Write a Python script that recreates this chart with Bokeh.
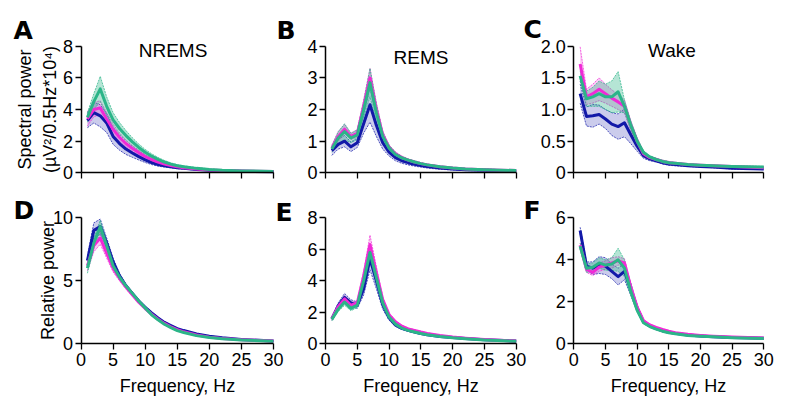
from bokeh.plotting import figure
from bokeh.models import Range1d, FixedTicker, Label, LinearAxis, CustomJSTickFormatter
from bokeh.embed import file_html
from bokeh.resources import INLINE

FONT = "Liberation Sans"
LETTER_FONT = "DejaVu Sans"
BLUE = "#1219a8"
MAGENTA = "#f02ad6"
GREEN = "#2bb588"

freq = [1, 2, 3, 4, 5, 6, 7, 8, 9, 10, 11, 12, 13, 14, 15, 16, 18, 20, 22, 25, 30]
x_ticks = [0, 5, 10, 15, 20, 25, 30]

# A: NREMS spectral power
a_blue = [3.3, 3.8, 3.6, 3.15, 2.3, 1.85, 1.5, 1.25, 1.02, 0.82, 0.65, 0.52, 0.44, 0.38, 0.32, 0.28, 0.21, 0.16, 0.13, 0.1, 0.07]
a_blue_sem = [0.45, 0.65, 0.7, 0.6, 0.5, 0.42, 0.34, 0.27, 0.21, 0.17, 0.13, 0.1, 0.08, 0.07, 0.06, 0.05, 0.04, 0.03, 0.03, 0.02, 0.02]
a_mag = [3.4, 4.0, 4.1, 3.4, 2.75, 2.25, 1.85, 1.55, 1.28, 1.03, 0.84, 0.68, 0.56, 0.46, 0.38, 0.32, 0.24, 0.18, 0.14, 0.11, 0.08]
a_mag_sem = [0.45, 0.45, 0.45, 0.4, 0.32, 0.27, 0.22, 0.18, 0.15, 0.12, 0.1, 0.08, 0.07, 0.06, 0.05, 0.04, 0.03, 0.03, 0.02, 0.02, 0.02]
a_grn = [3.5, 4.5, 5.3, 4.2, 3.35, 2.8, 2.35, 1.95, 1.6, 1.3, 1.05, 0.85, 0.68, 0.55, 0.45, 0.38, 0.28, 0.21, 0.16, 0.12, 0.09]
a_grn_sem = [0.3, 0.5, 0.8, 0.6, 0.45, 0.38, 0.32, 0.27, 0.22, 0.18, 0.15, 0.12, 0.1, 0.08, 0.07, 0.06, 0.05, 0.04, 0.03, 0.03, 0.02]

# B: REMS spectral power
b_blue = [0.7, 0.9, 1.0, 0.82, 0.95, 1.55, 2.15, 1.5, 0.95, 0.65, 0.48, 0.38, 0.32, 0.27, 0.23, 0.2, 0.15, 0.12, 0.1, 0.08, 0.06]
b_blue_sem = [0.15, 0.15, 0.18, 0.15, 0.15, 0.3, 0.55, 0.35, 0.2, 0.12, 0.1, 0.08, 0.07, 0.06, 0.05, 0.05, 0.04, 0.03, 0.03, 0.02, 0.02]
b_mag = [0.78, 1.15, 1.38, 1.15, 1.25, 2.1, 3.0, 2.0, 1.2, 0.8, 0.6, 0.48, 0.4, 0.34, 0.29, 0.25, 0.19, 0.15, 0.12, 0.1, 0.07]
b_mag_sem = [0.1, 0.15, 0.15, 0.1, 0.12, 0.2, 0.3, 0.2, 0.12, 0.08, 0.06, 0.05, 0.04, 0.04, 0.03, 0.03, 0.02, 0.02, 0.02, 0.02, 0.01]
b_grn = [0.75, 1.1, 1.3, 1.1, 1.2, 2.0, 2.85, 1.9, 1.15, 0.78, 0.58, 0.47, 0.4, 0.34, 0.29, 0.25, 0.19, 0.15, 0.12, 0.1, 0.07]
b_grn_sem = [0.1, 0.2, 0.25, 0.15, 0.15, 0.25, 0.45, 0.3, 0.15, 0.1, 0.07, 0.05, 0.04, 0.04, 0.03, 0.03, 0.02, 0.02, 0.02, 0.02, 0.01]

# C: Wake spectral power
c_blue = [1.25, 0.89, 0.9, 0.92, 0.85, 0.77, 0.73, 0.79, 0.6, 0.42, 0.27, 0.22, 0.19, 0.16, 0.14, 0.13, 0.11, 0.1, 0.09, 0.07, 0.06]
c_blue_sem = [0.15, 0.15, 0.18, 0.15, 0.15, 0.18, 0.2, 0.22, 0.14, 0.08, 0.04, 0.03, 0.02, 0.02, 0.02, 0.02, 0.01, 0.01, 0.01, 0.01, 0.01]
c_mag = [1.72, 1.2, 1.25, 1.32, 1.25, 1.18, 1.12, 1.05, 0.75, 0.5, 0.3, 0.24, 0.21, 0.18, 0.16, 0.15, 0.13, 0.12, 0.11, 0.1, 0.08]
c_mag_sem = [0.27, 0.12, 0.15, 0.18, 0.15, 0.13, 0.12, 0.1, 0.07, 0.05, 0.03, 0.02, 0.02, 0.02, 0.02, 0.01, 0.01, 0.01, 0.01, 0.01, 0.01]
c_grn = [1.53, 1.17, 1.2, 1.25, 1.2, 1.2, 1.28, 1.05, 0.75, 0.5, 0.32, 0.25, 0.21, 0.18, 0.16, 0.15, 0.13, 0.12, 0.11, 0.1, 0.09]
c_grn_sem = [0.08, 0.12, 0.15, 0.2, 0.2, 0.25, 0.32, 0.1, 0.07, 0.05, 0.03, 0.02, 0.02, 0.02, 0.02, 0.01, 0.01, 0.01, 0.01, 0.01, 0.01]

# D: NREMS relative power
d_blue = [6.6, 9.0, 9.3, 8.0, 6.5, 5.4, 4.6, 4.0, 3.4, 2.9, 2.45, 2.05, 1.7, 1.45, 1.2, 1.05, 0.78, 0.6, 0.48, 0.35, 0.22]
d_blue_sem = [0.4, 0.6, 0.6, 0.4, 0.3, 0.2, 0.15, 0.12, 0.1, 0.1, 0.08, 0.07, 0.06, 0.05, 0.05, 0.04, 0.04, 0.03, 0.03, 0.02, 0.02]
d_mag = [6.2, 7.8, 8.4, 7.2, 6.0, 5.2, 4.5, 3.9, 3.3, 2.8, 2.35, 1.95, 1.62, 1.35, 1.12, 0.95, 0.7, 0.53, 0.42, 0.32, 0.22]
d_mag_sem = [0.4, 0.5, 0.5, 0.4, 0.3, 0.2, 0.15, 0.12, 0.1, 0.08, 0.07, 0.06, 0.05, 0.05, 0.04, 0.04, 0.03, 0.03, 0.02, 0.02, 0.02]
d_grn = [6.0, 8.0, 9.3, 7.8, 6.2, 5.3, 4.6, 4.0, 3.4, 2.85, 2.3, 1.9, 1.55, 1.28, 1.05, 0.9, 0.65, 0.5, 0.4, 0.3, 0.2]
d_grn_sem = [0.4, 0.4, 0.5, 0.3, 0.2, 0.15, 0.12, 0.1, 0.08, 0.07, 0.06, 0.05, 0.05, 0.04, 0.04, 0.03, 0.03, 0.02, 0.02, 0.02, 0.02]

# E: REMS relative power
e_blue = [1.6, 2.4, 2.95, 2.6, 2.45, 3.5, 5.4, 4.0, 2.5, 1.65, 1.2, 0.98, 0.85, 0.75, 0.65, 0.58, 0.47, 0.4, 0.33, 0.25, 0.18]
e_blue_sem = [0.1, 0.2, 0.25, 0.2, 0.2, 0.4, 0.7, 0.5, 0.3, 0.15, 0.1, 0.07, 0.06, 0.05, 0.05, 0.04, 0.04, 0.03, 0.03, 0.02, 0.02]
e_mag = [1.6, 2.35, 2.85, 2.45, 2.6, 4.3, 6.3, 4.5, 2.8, 1.85, 1.4, 1.12, 0.95, 0.85, 0.75, 0.66, 0.53, 0.43, 0.36, 0.27, 0.18]
e_mag_sem = [0.1, 0.15, 0.2, 0.15, 0.15, 0.3, 0.6, 0.4, 0.2, 0.1, 0.08, 0.06, 0.05, 0.05, 0.04, 0.04, 0.03, 0.03, 0.02, 0.02, 0.02]
e_grn = [1.55, 2.2, 2.65, 2.25, 2.45, 4.0, 5.8, 4.2, 2.6, 1.7, 1.25, 1.0, 0.85, 0.75, 0.65, 0.58, 0.46, 0.38, 0.32, 0.24, 0.16]
e_grn_sem = [0.1, 0.15, 0.2, 0.15, 0.15, 0.3, 0.35, 0.25, 0.15, 0.08, 0.06, 0.05, 0.04, 0.04, 0.03, 0.03, 0.03, 0.02, 0.02, 0.02, 0.02]

# F: Wake relative power
f_blue = [5.4, 3.7, 3.6, 3.75, 3.7, 3.45, 3.2, 3.45, 2.6, 1.7, 1.05, 0.85, 0.72, 0.62, 0.55, 0.5, 0.42, 0.37, 0.33, 0.3, 0.27]
f_blue_sem = [0.15, 0.2, 0.3, 0.4, 0.4, 0.35, 0.4, 0.4, 0.3, 0.15, 0.06, 0.04, 0.03, 0.03, 0.03, 0.02, 0.02, 0.02, 0.02, 0.02, 0.02]
f_mag = [4.7, 3.55, 3.4, 3.65, 3.75, 3.85, 3.95, 3.85, 2.7, 1.75, 1.1, 0.9, 0.78, 0.68, 0.6, 0.53, 0.45, 0.4, 0.36, 0.32, 0.28]
f_mag_sem = [0.1, 0.15, 0.15, 0.2, 0.2, 0.25, 0.2, 0.2, 0.15, 0.1, 0.05, 0.04, 0.03, 0.03, 0.03, 0.02, 0.02, 0.02, 0.02, 0.02, 0.02]
f_grn = [4.65, 3.6, 3.65, 3.85, 3.75, 3.8, 4.0, 3.6, 2.5, 1.6, 1.0, 0.82, 0.7, 0.6, 0.53, 0.48, 0.4, 0.36, 0.33, 0.29, 0.25]
f_grn_sem = [0.15, 0.2, 0.2, 0.25, 0.25, 0.3, 0.55, 0.4, 0.2, 0.1, 0.05, 0.04, 0.03, 0.03, 0.03, 0.02, 0.02, 0.02, 0.02, 0.02, 0.02]

# page layout in pixels (one canvas; each panel's plotting box)
W, H = 792, 400
col_left = [80.5, 325.0, 573.3]
col_right = [273.0, 515.7, 763.3]
row_top = [45.7, 217.3]
row_bottom = [172.3, 343.3]

p = figure(width=W, height=H, x_range=Range1d(0, W), y_range=Range1d(H, 0),
           x_axis_type=None, y_axis_type=None, output_backend="svg",
           toolbar_location=None, title=None,
           min_border_left=0, min_border_right=0, min_border_top=0, min_border_bottom=0)
p.outline_line_color = None
p.background_fill_color = "white"
p.border_fill_color = "white"
p.grid.visible = False


def style_axis(ax):
    ax.axis_line_color = "black"
    ax.axis_line_width = 1.5
    ax.major_tick_line_color = "black"
    ax.major_tick_line_width = 1.3
    ax.major_tick_in = 0
    ax.major_tick_out = 6
    ax.minor_tick_line_color = None
    ax.major_label_text_font = FONT
    ax.major_label_text_font_size = "18px"
    ax.major_label_text_color = "black"
    ax.axis_label_text_font = FONT
    ax.axis_label_text_font_size = "18px"
    ax.axis_label_text_font_style = "normal"
    ax.axis_label_text_color = "black"


def make_panel(key, r, c, series, ymax, yticks, ylabel=None, ylabel_standoff=0, one_decimal=False):
    fl, fr, ft, fb = col_left[c], col_right[c], row_top[r], row_bottom[r]
    ppx = (fr - fl) / 30.0
    ppy = (fb - ft) / ymax
    xn, yn = "x" + key, "y" + key
    p.extra_x_ranges[xn] = Range1d(-fl / ppx, 30 + (W - fr) / ppx)
    p.extra_y_ranges[yn] = Range1d(-(H - fb) / ppy, ymax + ft / ppy)

    for mean, sem, col, alpha in series:
        up = [m + s for m, s in zip(mean, sem)]
        lo = [m - s for m, s in zip(mean, sem)]
        p.varea(x=freq, y1=lo, y2=up, fill_color=col, fill_alpha=alpha,
                x_range_name=xn, y_range_name=yn)
        for band in (up, lo):
            p.line(freq, band, line_color=col, line_width=0.8, line_dash="2 1", line_alpha=0.9,
                   x_range_name=xn, y_range_name=yn)
    for mean, sem, col, alpha in series:
        p.line(freq, mean, line_color=col, line_width=3, line_join="round",
               x_range_name=xn, y_range_name=yn)

    yax = LinearAxis(x_range_name=xn, y_range_name=yn, fixed_location=0, bounds=(0, ymax),
                     ticker=FixedTicker(ticks=yticks))
    style_axis(yax)
    yax.major_label_standoff = 2
    if one_decimal:
        yax.formatter = CustomJSTickFormatter(code="return tick === 0 ? '0' : tick.toFixed(1);")
    if ylabel:
        yax.axis_label = ylabel
        yax.axis_label_standoff = ylabel_standoff
        yax.axis_label_text_line_height = 1.27
    p.add_layout(yax, "left")

    xax = LinearAxis(x_range_name=xn, y_range_name=yn, fixed_location=0, bounds=(0, 30),
                     ticker=FixedTicker(ticks=x_ticks))
    style_axis(xax)
    if r == 0:
        xax.formatter = CustomJSTickFormatter(code="return '';")
    else:
        xax.major_label_standoff = 3
        xax.axis_label = "Frequency, Hz"
        xax.axis_label_standoff = 7
    p.add_layout(xax, "below")


def trio(b, bs, m, ms, g, gs):
    return [(b, bs, BLUE, 0.22), (m, ms, MAGENTA, 0.25), (g, gs, GREEN, 0.35)]


make_panel("A", 0, 0, trio(a_blue, a_blue_sem, a_mag, a_mag_sem, a_grn, a_grn_sem), 8, [0, 2, 4, 6, 8],
           ylabel="Spectral power\n(µV²/0.5Hz*10⁴)", ylabel_standoff=0)
make_panel("B", 0, 1, trio(b_blue, b_blue_sem, b_mag, b_mag_sem, b_grn, b_grn_sem), 4, [0, 1, 2, 3, 4])
make_panel("C", 0, 2, trio(c_blue, c_blue_sem, c_mag, c_mag_sem, c_grn, c_grn_sem), 2, [0, 0.5, 1, 1.5, 2],
           one_decimal=True)
make_panel("D", 1, 0, trio(d_blue, d_blue_sem, d_mag, d_mag_sem, d_grn, d_grn_sem), 10, [0, 5, 10],
           ylabel="Relative power", ylabel_standoff=-8)
make_panel("E", 1, 1, trio(e_blue, e_blue_sem, e_mag, e_mag_sem, e_grn, e_grn_sem), 8, [0, 2, 4, 6, 8])
make_panel("F", 1, 2, trio(f_blue, f_blue_sem, f_mag, f_mag_sem, f_grn, f_grn_sem), 6, [0, 2, 4, 6])

# panel letters and state titles (page pixel positions, baseline)
letters = ["A", "B", "C", "D", "E", "F"]
letter_x = [13, 276, 523, 13, 275, 523]
letter_y = [30, 29.5, 29, 210, 211.5, 210]
titles = ["NREMS", "REMS", "Wake"]
title_x = [172.5, 420.5, 671.5]
title_y = [50, 56.5, 50]

for t, x, y in zip(letters, letter_x, letter_y):
    p.add_layout(Label(x=x, y=y, text=t, text_font=LETTER_FONT, text_font_size="25px",
                       text_font_style="bold", text_color="black",
                       text_align="left", text_baseline="alphabetic"))
for t, x, y in zip(titles, title_x, title_y):
    p.add_layout(Label(x=x, y=y, text=t, text_font=FONT, text_font_size="19px",
                       text_color="black", text_align="center", text_baseline="alphabetic"))

open("out.html", "w").write(file_html(p, INLINE))
